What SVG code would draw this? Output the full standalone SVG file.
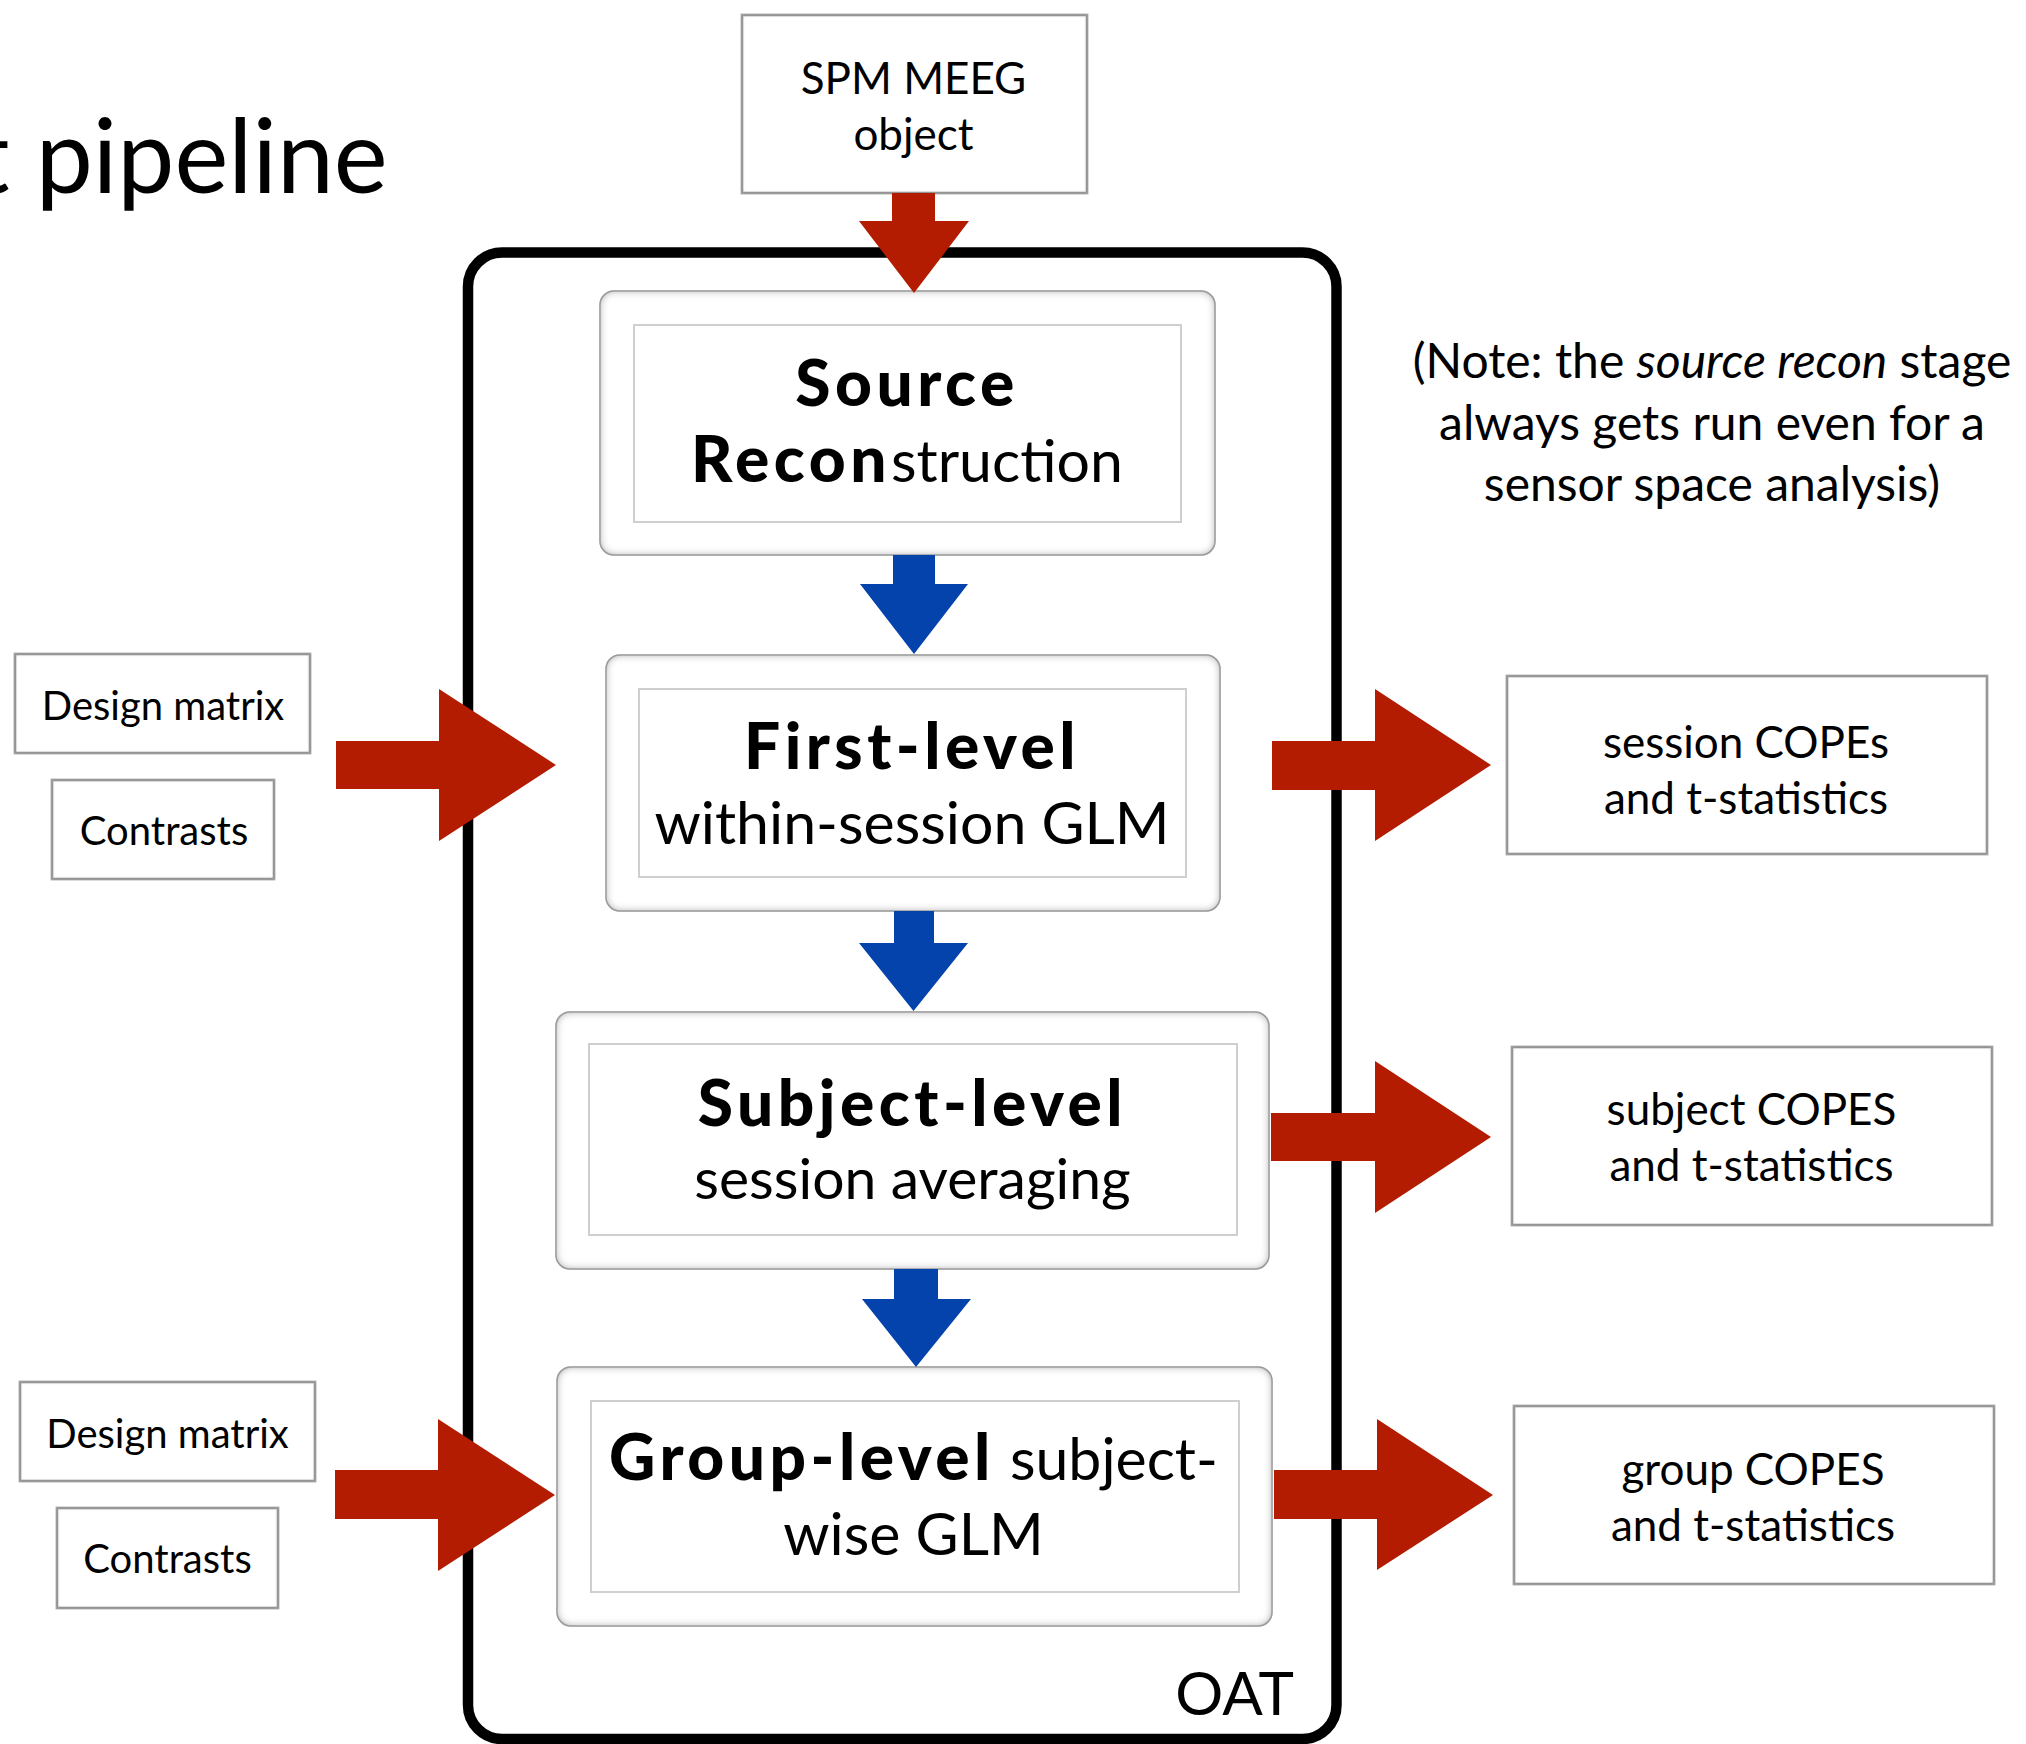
<svg xmlns="http://www.w3.org/2000/svg" width="2026" height="1744" viewBox="0 0 2026 1744">
  <style>
    text { font-family: "Lato", "Open Sans", "Noto Sans", sans-serif; fill: #000; }
    .small { font-size: 40px; text-anchor: middle; }
    .body { font-size: 44px; text-anchor: middle; }
    .note { font-size: 48px; text-anchor: middle; }
    .stage { font-size: 59px; text-anchor: middle; }
    .b { font-weight: 900; font-size: 64px; letter-spacing: 4.5px; }
    .title { font-size: 102px; }
    .box { fill: #fff; stroke: #8c8c8c; stroke-width: 2.5; }
    .panel { fill: #fff; stroke: #b4b4b4; stroke-width: 1.5; }
    .inner { fill: none; stroke: #cfcfcf; stroke-width: 2; }
    .oat { fill: none; stroke: #000; stroke-width: 10.5; }
    .red { fill: #b31c01; }
    .blue { fill: #0443ab; }
  </style>
  <defs>
    <!-- soft inset shading along the inside edge of a shape -->
    <filter id="inset" x="-5%" y="-5%" width="110%" height="110%">
      <feFlood flood-color="#7a7a7a" result="c"/>
      <feComposite in="c" in2="SourceAlpha" operator="out" result="ring"/>
      <feGaussianBlur in="ring" stdDeviation="4.5" result="soft"/>
      <feComposite in="soft" in2="SourceAlpha" operator="in" result="shade"/>
      <feMerge><feMergeNode in="SourceGraphic"/><feMergeNode in="shade"/></feMerge>
    </filter>
    <filter id="insetLight" x="-5%" y="-5%" width="110%" height="110%">
      <feFlood flood-color="#b0b0b0" result="c"/>
      <feComposite in="c" in2="SourceAlpha" operator="out" result="ring"/>
      <feGaussianBlur in="ring" stdDeviation="2" result="soft"/>
      <feComposite in="soft" in2="SourceAlpha" operator="in" result="shade"/>
      <feMerge><feMergeNode in="SourceGraphic"/><feMergeNode in="shade"/></feMerge>
    </filter>
  </defs>

  <rect width="2026" height="1744" fill="#fff"/>

  <!-- slide title, running off the left edge -->
  <text class="title" x="-27" y="193">t pipeline</text>

  <!-- OAT container -->
  <g id="oat">
    <rect class="oat" x="468" y="252.5" width="868.5" height="1486.5" rx="34"/>
    <text class="stage" x="1294" y="1715" style="text-anchor:end;font-size:60px">OAT</text>
  </g>

  <!-- input object -->
  <g id="spm-meeg">
    <rect class="box" x="742" y="15" width="345" height="178" filter="url(#insetLight)"/>
    <text class="body" x="913.5" y="94">SPM MEEG</text>
    <text class="body" x="913.5" y="150">object</text>
  </g>

  <!-- pipeline stages -->
  <g id="source-recon">
    <rect class="panel" x="600" y="291" width="615" height="264" rx="14" filter="url(#inset)"/>
    <rect class="inner" x="634" y="325" width="547" height="197"/>
    <text class="stage" x="907" y="406"><tspan class="b">Source</tspan></text>
    <text class="stage" x="907" y="482"><tspan class="b">Recon</tspan>struction</text>
  </g>

  <g id="first-level">
    <rect class="panel" x="606" y="655" width="614" height="256" rx="14" filter="url(#inset)"/>
    <rect class="inner" x="639" y="689" width="547" height="188"/>
    <text class="stage" x="912" y="769"><tspan class="b">First-level</tspan></text>
    <text class="stage" x="912" y="844">within-session GLM</text>
  </g>

  <g id="subject-level">
    <rect class="panel" x="556" y="1012" width="713" height="257" rx="14" filter="url(#inset)"/>
    <rect class="inner" x="589" y="1044" width="648" height="191"/>
    <text class="stage" x="912.5" y="1126"><tspan class="b">Subject-level</tspan></text>
    <text class="stage" x="912.5" y="1199" style="font-size:57px">session averaging</text>
  </g>

  <g id="group-level">
    <rect class="panel" x="557" y="1367" width="715" height="259" rx="14" filter="url(#inset)"/>
    <rect class="inner" x="591" y="1401" width="648" height="191"/>
    <text class="stage" x="913.5" y="1479.5"><tspan class="b">Group-level</tspan> subject-</text>
    <text class="stage" x="913.5" y="1555">wise GLM</text>
  </g>

  <!-- first-level inputs -->
  <g id="design-matrix-1">
    <rect class="box" x="15" y="654" width="295" height="99" filter="url(#insetLight)"/>
    <text class="small" x="163" y="720">Design matrix</text>
  </g>
  <g id="contrasts-1">
    <rect class="box" x="52" y="780" width="222" height="99" filter="url(#insetLight)"/>
    <text class="small" x="164" y="845">Contrasts</text>
  </g>

  <!-- group-level inputs -->
  <g id="design-matrix-2">
    <rect class="box" x="20" y="1382" width="295" height="99" filter="url(#insetLight)"/>
    <text class="small" x="167.5" y="1448">Design matrix</text>
  </g>
  <g id="contrasts-2">
    <rect class="box" x="57" y="1508" width="221" height="100" filter="url(#insetLight)"/>
    <text class="small" x="167.5" y="1573">Contrasts</text>
  </g>

  <!-- outputs -->
  <g id="session-copes">
    <rect class="box" x="1507" y="676" width="480" height="178" filter="url(#insetLight)"/>
    <text class="body" x="1746" y="758">session COPEs</text>
    <text class="body" x="1746" y="814">and t-statistics</text>
  </g>
  <g id="subject-copes">
    <rect class="box" x="1512" y="1047" width="480" height="178" filter="url(#insetLight)"/>
    <text class="body" x="1751.5" y="1124.5">subject COPES</text>
    <text class="body" x="1751.5" y="1181">and t-statistics</text>
  </g>
  <g id="group-copes">
    <rect class="box" x="1514" y="1406" width="480" height="178" filter="url(#insetLight)"/>
    <text class="body" x="1753" y="1485">group COPES</text>
    <text class="body" x="1753" y="1541">and t-statistics</text>
  </g>

  <!-- side note -->
  <g id="note">
    <text class="note" x="1712" y="378">(Note: the <tspan font-style="italic">source recon</tspan> stage</text>
    <text class="note" x="1712" y="440">always gets run even for a</text>
    <text class="note" x="1712" y="501">sensor space analysis)</text>
  </g>

  <!-- block arrows -->
  <g id="connectors">
    <!-- into the container -->
    <polygon class="red" points="892,193 935,193 935,221 969,221 914,293 859,221 892,221"/>
    <!-- stage to stage -->
    <polygon class="blue" points="893,555 935,555 935,584 968,584 914,654 860,584 893,584"/>
    <polygon class="blue" points="894,911 934,911 934,943 968,943 913.5,1011 859,943 894,943"/>
    <polygon class="blue" points="894,1269 938,1269 938,1299 971,1299 916,1367 862,1299 894,1299"/>
    <!-- inputs -->
    <polygon class="red" points="336,741 439,741 439,689 556,765 439,841 439,789 336,789"/>
    <polygon class="red" points="335,1470 438,1470 438,1419 555,1495 438,1571 438,1519 335,1519"/>
    <!-- outputs -->
    <polygon class="red" points="1272,741 1375,741 1375,689 1491,765 1375,841 1375,790 1272,790"/>
    <polygon class="red" points="1271,1113 1375,1113 1375,1061 1491,1137 1375,1213 1375,1161 1271,1161"/>
    <polygon class="red" points="1274,1470 1377,1470 1377,1419 1493,1495 1377,1570 1377,1519 1274,1519"/>
  </g>
</svg>
